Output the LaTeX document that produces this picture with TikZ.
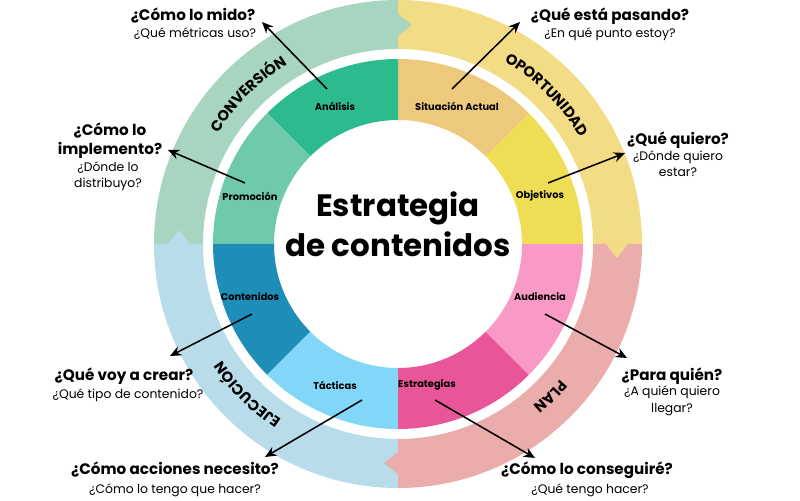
\documentclass[tikz,border=0pt]{standalone}
\usepackage{fontspec}
\setmainfont{Poppins}
\usetikzlibrary{calc,decorations.text,arrows.meta}
\definecolor{rgreen}{HTML}{A8D5C0}
\definecolor{ryellow}{HTML}{F3DC86}
\definecolor{rpink}{HTML}{EBADAC}
\definecolor{rblue}{HTML}{B8DCEA}
\definecolor{sana}{HTML}{2DBA8F}
\definecolor{spro}{HTML}{6ECAAB}
\definecolor{ssit}{HTML}{EDC97E}
\definecolor{sobj}{HTML}{EEDD55}
\definecolor{saud}{HTML}{F99AC6}
\definecolor{sest}{HTML}{E85598}
\definecolor{stac}{HTML}{82D7F8}
\definecolor{scon}{HTML}{1E8DB8}
\newcommand{\annseg}[5]{\fill[#1] ($(C)+(#2:#5)$) arc[start angle=#2,end angle=#3,radius=#5] -- ($(C)+(#3:#4)$) arc[start angle=#3,end angle=#2,radius=#4] -- cycle;}
\newcommand{\ringtab}[2]{\fill[#1] ($(C)+(#2:208)$) -- ($(C)+(#2:219)+(#2-90:14)$) -- ($(C)+(#2:230)$) -- cycle;}
\newcommand{\ringlabel}[3]{\path[decorate,decoration={text along path,text align=center,text={|\fontsize{10.5}{11}\selectfont\bfseries|#3}}] ($(C)+(#1:211)$) arc[start angle=#1,end angle=#2,radius=211];}
\tikzset{
  seglabel/.style={font=\fontsize{7}{8}\selectfont\bfseries,text=black},
  qtitle/.style={font=\fontsize{10.8}{13}\selectfont\bfseries,align=center,inner sep=0},
  qsub/.style={font=\fontsize{8.8}{12}\selectfont,align=center,inner sep=0},
  arr/.style={-{Stealth[length=8pt,width=7pt]},line width=1.1pt,black},
}
\begin{document}
\begin{tikzpicture}[x=0.025cm,y=0.025cm]
\useasboundingbox (0,0) rectangle (800,500);
\coordinate (C) at (398,256);
% outer ring
\annseg{ryellow}{0}{90}{195}{244}
\annseg{rgreen}{90}{180}{195}{244}
\annseg{rblue}{180}{270}{195}{244}
\annseg{rpink}{270}{360}{195}{244}
\ringtab{rgreen}{90}
\ringtab{ryellow}{0}
\ringtab{rpink}{270}
\ringtab{rblue}{180}
% inner segments
\annseg{ssit}{45}{90}{124}{185}
\annseg{sana}{90}{135}{124}{185}
\annseg{spro}{135}{180}{124}{185}
\annseg{scon}{180}{225}{124}{185}
\annseg{stac}{225}{270}{124}{185}
\annseg{sest}{270}{315}{124}{185}
\annseg{saud}{315}{360}{124}{185}
\annseg{sobj}{0}{45}{124}{185}
% ring labels
\ringlabel{170}{100}{CONVERSIÓN}
\ringlabel{82}{8}{OPORTUNIDAD}
\ringlabel{-15}{-75}{PLAN}
\ringlabel{262}{188}{EJECUCIÓN}
% centre
\node[font=\fontsize{22}{24}\selectfont\bfseries] (t1) at (398,292) {Estrategia};
\node[font=\fontsize{22}{24}\selectfont\bfseries] (t2) at (398,256) {de contenidos};
% segment labels
\node[seglabel] (lana) at (335,394) {Análisis};
\node[seglabel] (lsit) at (457,394) {Situación Actual};
\node[seglabel] (lpro) at (250,304) {Promoción};
\node[seglabel] (lobj) at (540,304) {Objetivos};
\node[seglabel] (lcon) at (250,203) {Contenidos};
\node[seglabel] (laud) at (540,203) {Audiencia};
\node[seglabel] (ltac) at (335,115) {Tácticas};
\node[seglabel] (lest) at (427,115) {Estrategias};
% questions
\node[qtitle] (q1) at (193,484) {¿Cómo lo mido?};
\node[qsub] (q1s) at (195,466) {¿Qué métricas uso?};
\node[qtitle] (q2) at (610,484) {¿Qué está pasando?};
\node[qsub] (q2s) at (610,466) {¿En qué punto estoy?};
\node[qtitle,anchor=north] (q3) at (110,377) {¿Cómo lo\\implemento?};
\node[qsub,anchor=north] (q3s) at (108,339) {¿Dónde lo\\distribuyo?};
\node[qtitle] (q4) at (678,360) {¿Qué quiero?};
\node[qsub,anchor=north] (q4s) at (678,350) {¿Dónde quiero\\estar?};
\node[qtitle] (q5) at (124,124) {¿Qué voy a crear?};
\node[qsub] (q5s) at (128,105) {¿Qué tipo de contenido?};
\node[qtitle] (q6) at (672,124) {¿Para quién?};
\node[qsub,anchor=north] (q6s) at (672,114) {¿A quién quiero\\llegar?};
\node[qtitle] (q7) at (175,30) {¿Cómo acciones necesito?};
\node[qsub] (q7s) at (175,10) {¿Cómo lo tengo que hacer?};
\node[qtitle] (q8) at (587,30) {¿Cómo lo conseguiré?};
\node[qsub] (q8s) at (590,10) {¿Qué tengo hacer?};
% arrow ends
\coordinate (a1s) at (327,411); \coordinate (a1e) at (262,478);
\coordinate (a2s) at (452,411); \coordinate (a2e) at (520,478);
\coordinate (a3s) at (245,317); \coordinate (a3e) at (168,350);
\coordinate (a4s) at (548,317); \coordinate (a4e) at (625,347);
\coordinate (a5s) at (252,186); \coordinate (a5e) at (170,144);
\coordinate (a6s) at (545,186); \coordinate (a6e) at (627,142);
\coordinate (a7s) at (362,100); \coordinate (a7e) at (265,43);
\coordinate (a8s) at (435,100); \coordinate (a8e) at (535,42);
\draw[arr] (a1s) -- (a1e);
\draw[arr] (a2s) -- (a2e);
\draw[arr] (a3s) -- (a3e);
\draw[arr] (a4s) -- (a4e);
\draw[arr] (a5s) -- (a5e);
\draw[arr] (a6s) -- (a6e);
\draw[arr] (a7s) -- (a7e);
\draw[arr] (a8s) -- (a8e);
\end{tikzpicture}
\end{document}
